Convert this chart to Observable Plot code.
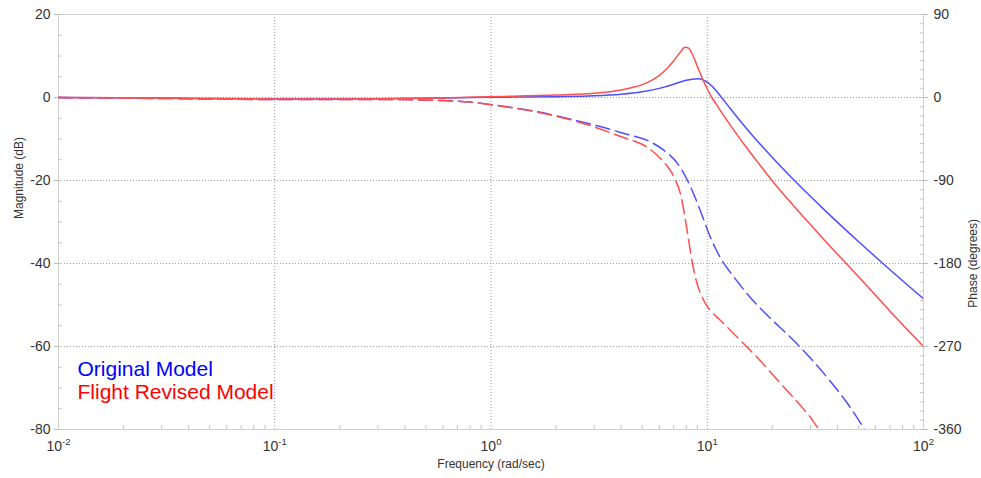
<!DOCTYPE html>
<html><head><meta charset="utf-8">
<script src="https://cdn.jsdelivr.net/npm/d3@7"></script>
<script src="https://cdn.jsdelivr.net/npm/@observablehq/plot@0.6"></script>
<style>
html,body{margin:0;padding:0;background:#fff;}
#chart{width:981px;height:478px;}
</style></head><body><div id="chart"></div>
<script>
// ---- Data ----
// Magnitude, Original Model (dB)
const origMagFreq = [0.01, 0.03, 0.1, 0.3, 0.6, 1, 2, 3, 4, 5, 6, 7, 7.5, 8, 8.5, 9.1, 9.6, 10, 10.5, 11, 11.6, 12.8, 14, 16, 20, 26.2, 35, 50, 70, 100];
const origMagDb   = [0, -0.15, -0.35, -0.3, -0.1, 0.05, 0.2, 0.4, 0.8, 1.4, 2.2, 3.2, 3.75, 4.15, 4.4, 4.5, 4.2, 3.7, 2.75, 1.6, 0.12, -2.7, -5.23, -8.83, -14.45, -20.8, -27.2, -34.7, -41.5, -48.5];
// Magnitude, Flight Revised Model (dB)
const revMagFreq = [0.01, 0.03, 0.1, 0.3, 0.6, 1, 2, 3, 4, 4.5, 5, 5.5, 6, 6.5, 7, 7.5, 7.9, 8.2, 8.5, 9, 9.6, 10, 10.5, 11, 12, 13, 15, 17, 20, 25, 30, 35, 44.7, 55, 70, 100];
const revMagDb   = [0, -0.15, -0.35, -0.3, -0.1, 0.2, 0.6, 1.0, 1.8, 2.4, 3.1, 4.05, 5.35, 6.95, 8.85, 10.9, 12.1, 11.9, 10.6, 7.5, 4.0, 2.1, 0, -1.6, -4.6, -7.2, -11.7, -15.4, -20.1, -26.0, -30.6, -34.5, -40.4, -45.5, -51.5, -60];
// Phase, Original Model (degrees)
const origPhaseFreq = [0.01, 0.0296, 0.0956, 0.308, 0.584, 0.804, 0.995, 1.523, 2.407, 3.971, 5.642, 6.41, 7.286, 8.105, 8.825, 9.507, 10.13, 10.92, 11.77, 12.81, 14.25, 15.52, 19.0, 23.5, 27.0, 31.0, 37.15, 44.53, 51.14, 53.36];
const origPhaseDeg  = [0, -1.08, -2.17, -2.17, -3.25, -4.88, -7.59, -14.1, -24.2, -37.9, -49.9, -58.6, -71.6, -90.0, -109.5, -129.0, -146.4, -163.7, -177.8, -189.8, -203.9, -214.7, -236.4, -257.0, -271.1, -286.3, -308.0, -331.8, -353.0, -360];
// Phase, Flight Revised Model (degrees)
const revPhaseFreq = [0.01, 0.0296, 0.0956, 0.308, 0.584, 0.804, 0.995, 1.523, 2.407, 3.971, 5.292, 6.078, 6.55, 6.835, 7.133, 7.365, 7.603, 7.85, 8.19, 8.548, 8.92, 9.307, 9.815, 10.35, 11.52, 14.25, 17.63, 21.82, 27.0, 30.03, 32.7, 33.04];
const revPhaseDeg  = [0, -1.08, -2.17, -2.17, -3.25, -4.88, -7.8, -14.5, -25.0, -42.3, -54.2, -66.1, -74.8, -81.3, -90.0, -97.6, -109.5, -126.9, -154.0, -180.0, -199.5, -212.5, -223.4, -231.0, -241.8, -263.5, -285.7, -310.1, -334.0, -347.0, -358.9, -360];

// Ticks
const xMajorTicks = [0.01, 0.1, 1, 10, 100];
const magTicks = [20, 0, -20, -40, -60, -80];
const phaseTicks = [90, 0, -90, -180, -270, -360];
const seriesNames = ["Original Model", "Flight Revised Model"];

// ---- Chart ----
const BLUE = "#4f4fff", RED = "#ff4f4f";
const FONT = "'Liberation Sans', Arial, Helvetica, sans-serif";
const k = 20 / 90; // phase degrees -> magnitude axis units (0 aligned, 90 -> 20, -360 -> -80)
const rows = (fs, vs) => fs.map((f, i) => ({f, v: vs[i]}));
const xMinorTicks = [0.01, 0.1, 1, 10].flatMap(d => [2,3,4,5,6,7,8,9].map(m => d * m));
const magMinor = d3.range(-80, 20.1, 5);
const phaseMinorDb = d3.range(-360, 90.1, 10).map(p => p * k);

const chart = Plot.plot({
  width: 981, height: 478,
  marginLeft: 58, marginRight: 58, marginTop: 14, marginBottom: 49,
  style: {fontFamily: FONT, fontSize: "14px", color: "#333", background: "#fff"},
  x: {type: "log", domain: [0.01, 100]},
  y: {domain: [-80, 20]},
  marks: [
    Plot.gridX(xMajorTicks.slice(1, -1), {stroke: "#9a9a9a", strokeOpacity: 1, strokeDasharray: "1,2"}),
    Plot.gridY([-60, -40, -20, 0], {stroke: "#9a9a9a", strokeOpacity: 1, strokeDasharray: "1,2"}),
    Plot.frame({stroke: "#d0d0d0"}),
    Plot.axisX(xMinorTicks, {tickSize: -4, tickFormat: () => "", stroke: "#c4c4c4", label: null}),
    Plot.axisY(magMinor, {anchor: "left", tickSize: -4, tickFormat: () => "", stroke: "#c4c4c4", label: null}),
    Plot.axisY(phaseMinorDb, {anchor: "right", tickSize: -4, tickFormat: () => "", stroke: "#c4c4c4", label: null}),
    Plot.axisX(xMajorTicks, {tickSize: 0, tickPadding: 12, tickFormat: d => "10^" + Math.round(Math.log10(d)), label: null}),
    Plot.axisY(magTicks, {anchor: "left", tickSize: 4, tickPadding: 4, stroke: "#bbb", tickFormat: d => String(d), label: null}),
    Plot.axisY(phaseTicks.map(p => p * k), {anchor: "right", tickSize: 4, tickPadding: 6, stroke: "#bbb", tickFormat: d => String(Math.round(d / k)), label: null}),
    Plot.line(rows(origMagFreq, origMagDb), {x: "f", y: "v", stroke: BLUE, strokeWidth: 1.5, curve: "monotone-x", clip: true}),
    Plot.line(rows(origPhaseFreq, origPhaseDeg), {x: "f", y: d => d.v * k, stroke: BLUE, strokeWidth: 1.5, strokeDasharray: "14,6", curve: "monotone-x", clip: true}),
    Plot.line(rows(revMagFreq, revMagDb), {x: "f", y: "v", stroke: RED, strokeWidth: 1.5, curve: "monotone-x", clip: true}),
    Plot.line(rows(revPhaseFreq, revPhaseDeg), {x: "f", y: d => d.v * k, stroke: RED, strokeWidth: 1.5, strokeDasharray: "14,6", curve: "monotone-x", clip: true}),
    Plot.text(["Magnitude (dB)"], {frameAnchor: "left", rotate: -90, dx: -39, dy: -3, fontSize: 12, fill: "#333"}),
    Plot.text(["Phase (degrees)"], {frameAnchor: "right", rotate: -90, dx: 50, dy: -3, fontSize: 12, fill: "#333"}),
    Plot.text(["Frequency (rad/sec)"], {frameAnchor: "bottom", lineAnchor: "bottom", dy: 38, fontSize: 12, fill: "#333"}),
    Plot.text([seriesNames[0]], {frameAnchor: "bottom-left", textAnchor: "start", lineAnchor: "bottom", dx: 19, dy: -54, fontSize: 21, fill: "#0000ff"}),
    Plot.text([seriesNames[1]], {frameAnchor: "bottom-left", textAnchor: "start", lineAnchor: "bottom", dx: 19, dy: -31, fontSize: 21, fill: "#ff0000"})
  ]
});

// superscript exponents on the frequency tick labels
d3.select(chart).selectAll("text").each(function () {
  const t = this.textContent;
  if (/^10\^/.test(t)) {
    const exp = t.slice(3);
    const s = d3.select(this);
    s.text(null);
    s.append("tspan").text("10");
    s.append("tspan").attr("dy", -6).attr("font-size", "9.5px").text(exp);
  }
});

document.getElementById("chart").append(chart);
</script></body></html>
